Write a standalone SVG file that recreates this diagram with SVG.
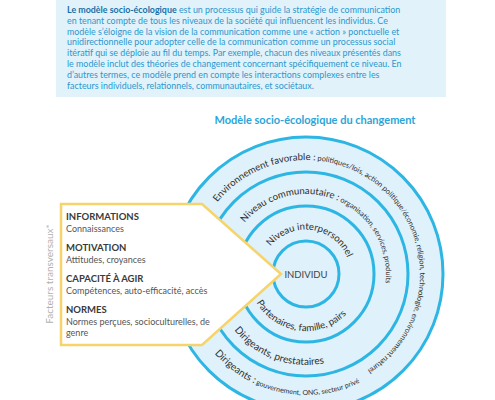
<svg xmlns="http://www.w3.org/2000/svg" xmlns:xlink="http://www.w3.org/1999/xlink" width="495" height="400" viewBox="0 0 495 400">
<style>
  .t { font-family: Lato, "Open Sans", "Liberation Sans", sans-serif; }
  .intro { font-size: 8.9px; fill: #2b97cf; }
  .introB { font-weight: 700; fill: #1b6fa6; }
  .title { font-size: 11px; font-weight: 700; fill: #2aa5da; }
  .ring { fill: #dff1fa; stroke: #2db6e4; stroke-width: 3; }
  .arc { fill: #2e2e2e; }
  .big { font-size: 9.6px; }
  .big2 { font-size: 10px; }
  .small { font-size: 7.4px; }
  .small2 { font-size: 7px; }
  .hd { font-size: 9.5px; font-weight: 700; fill: #3a3a3a; }
  .sub { font-size: 9px; fill: #555555; }
  .side { font-size: 10px; fill: #b0b0b0; }
</style>
<defs>
  <path id="pEnv" d="M217.4,202.3 A114,114 0 1 1 325.8,386.3"/>
  <path id="pCom" d="M244.7,222.6 A80,80 0 1 1 346,343.3"/>
  <path id="pInt" d="M270.5,246.3 A45,45 0 1 1 340.5,302.9"/>
  <path id="pPar" d="M256.6,302.5 A57,57 0 0 0 363,274"/>
  <path id="pDir" d="M234.3,330 A91,91 0 0 0 384.8,319.5"/>
  <path id="pGov" d="M214.7,353.4 A121,121 0 0 0 410.8,334.5"/>
</defs>

<g id="intro">
  <rect x="56" y="0" width="390" height="97" fill="#e1f2fa"/>
  <text class="t intro" x="67" y="13">
    <tspan class="introB">Le modèle socio-écologique</tspan> est un processus qui guide la stratégie de communication
    <tspan x="67" dy="10.8">en tenant compte de tous les niveaux de la société qui influencent les individus. Ce</tspan>
    <tspan x="67" dy="10.8">modèle s’éloigne de la vision de la communication comme une « action » ponctuelle et</tspan>
    <tspan x="67" dy="10.8">unidirectionnelle pour adopter celle de la communication comme un processus social</tspan>
    <tspan x="67" dy="10.8">itératif qui se déploie au fil du temps. Par exemple, chacun des niveaux présentés dans</tspan>
    <tspan x="67" dy="10.8">le modèle inclut des théories de changement concernant spécifiquement ce niveau. En</tspan>
    <tspan x="67" dy="10.8">d’autres termes, ce modèle prend en compte les interactions complexes entre les</tspan>
    <tspan x="67" dy="10.8">facteurs individuels, relationnels, communautaires, et sociétaux.</tspan>
  </text>
</g>

<g id="title">
  <text class="t title" x="315" y="124" text-anchor="middle">Modèle socio-écologique du changement</text>
</g>

<g id="rings">
  <circle class="ring" cx="306" cy="274" r="137"/>
  <circle class="ring" cx="306" cy="274" r="102"/>
  <circle class="ring" cx="306" cy="274" r="68"/>
  <circle class="ring" cx="306" cy="274" r="33"/>
</g>

<g id="ring-labels" class="t arc">
  <text><textPath href="#pEnv"><tspan class="big">Environnement favorable :</tspan><tspan class="small"> politiques/lois, action politique/économie, religion, technologie, environnement naturel</tspan></textPath></text>
  <text><textPath href="#pCom"><tspan class="big">Niveau communautaire :</tspan><tspan class="small"> organisation, services, produits</tspan></textPath></text>
  <text><textPath href="#pInt"><tspan class="big">Niveau interpersonnel</tspan></textPath></text>
  <text><textPath href="#pPar"><tspan class="big">Partenaires, famille, pairs</tspan></textPath></text>
  <text><textPath href="#pDir"><tspan class="big2">Dirigeants, prestataires</tspan></textPath></text>
  <text><textPath href="#pGov"><tspan class="big2">Dirigeants :</tspan><tspan class="small2"> gouvernement, ONG, secteur privé</tspan></textPath></text>
</g>

<g id="factors">
  <polygon points="61,204 202,204 281,274 202,345 61,345" fill="#ffffff" stroke="#f6d46a" stroke-width="2.5"/>
  <text class="t hd" x="66" y="220">INFORMATIONS</text>
  <text class="t sub" x="66" y="231.5">Connaissances</text>
  <text class="t hd" x="66" y="251">MOTIVATION</text>
  <text class="t sub" x="66" y="262.5">Attitudes, croyances</text>
  <text class="t hd" x="66" y="282">CAPACITÉ À AGIR</text>
  <text class="t sub" x="66" y="293.5">Compétences, auto-efficacité, accès</text>
  <text class="t hd" x="66" y="313">NORMES</text>
  <text class="t sub" x="66" y="324.5">Normes perçues, socioculturelles, de</text>
  <text class="t sub" x="66" y="336">genre</text>
</g>

<g id="individu">
  <text class="t" x="306" y="278" text-anchor="middle" font-size="9.5" fill="#444444">INDIVIDU</text>
</g>

<g id="side-label">
  <text class="t side" transform="translate(53,274) rotate(-90)" text-anchor="middle">Facteurs transversaux*</text>
</g>
</svg>
